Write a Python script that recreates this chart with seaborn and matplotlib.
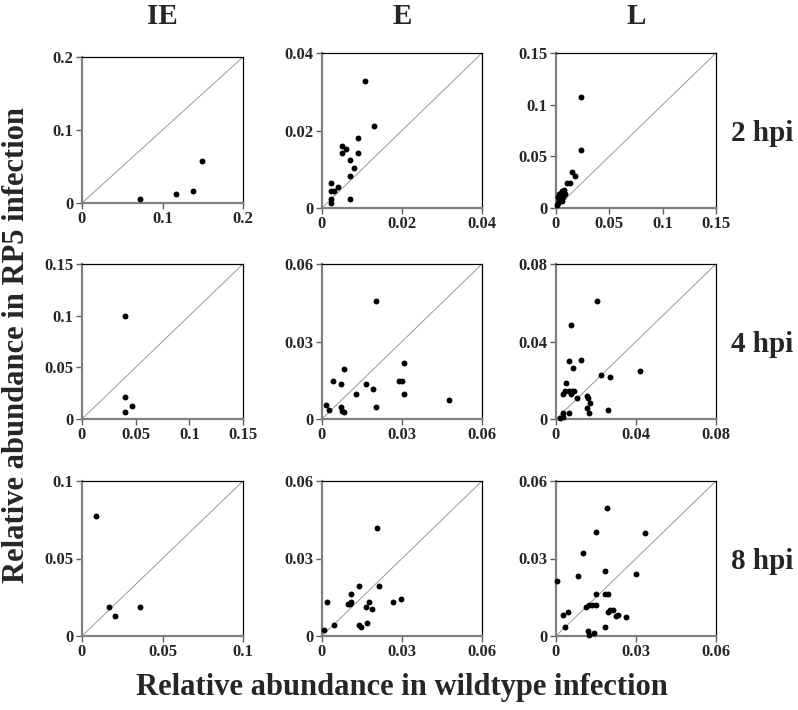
import matplotlib
matplotlib.use("Agg")
import matplotlib.pyplot as plt
import seaborn as sns
from matplotlib.ticker import FuncFormatter

sns.set_theme(style="white")
plt.rcParams['font.family'] = ['Liberation Serif', 'DejaVu Serif']
plt.rcParams['font.weight'] = 'bold'

# stages (columns) and time points (rows)
stages = ['IE', 'E', 'L']
times = ['2 hpi', '4 hpi', '8 hpi']

# axis maximum and ticks per panel
limits = [[0.2, 0.04, 0.15],
          [0.15, 0.06, 0.08],
          [0.1, 0.06, 0.06]]
ticks = [[[0, 0.1, 0.2], [0, 0.02, 0.04], [0, 0.05, 0.1, 0.15]],
         [[0, 0.05, 0.1, 0.15], [0, 0.03, 0.06], [0, 0.04, 0.08]],
         [[0, 0.05, 0.1], [0, 0.03, 0.06], [0, 0.03, 0.06]]]

# 2 hpi
ie_2_wt = [0.072, 0.117, 0.138, 0.149]
ie_2_rp = [0.006, 0.012, 0.016, 0.057]
e_2_wt = [0.0108, 0.0131, 0.0089, 0.0051, 0.0061, 0.0051, 0.0089, 0.0069, 0.0079,
          0.0069, 0.0022, 0.0041, 0.0022, 0.0031, 0.0022, 0.0022, 0.0070]
e_2_rp = [0.0329, 0.0212, 0.0180, 0.0161, 0.0151, 0.0141, 0.0141, 0.0123, 0.0103,
          0.0083, 0.0064, 0.0054, 0.0044, 0.0044, 0.0024, 0.0014, 0.0024]
l_2_wt = [0.0231, 0.0231, 0.0147, 0.0178, 0.0131, 0.0100, 0.0075, 0.0053, 0.0084,
          0.0038, 0.0063, 0.0022, 0.0030, 0.0053, 0.0016, 0.0013, 0.0045, 0.0028]
l_2_rp = [0.107, 0.056, 0.035, 0.031, 0.0245, 0.024, 0.0172, 0.016, 0.0137,
          0.0127, 0.0105, 0.011, 0.008, 0.0064, 0.0048, 0.003, 0.0145, 0.0135]

# 4 hpi
ie_4_wt = [0.040, 0.040, 0.047, 0.040]
ie_4_rp = [0.100, 0.021, 0.013, 0.007]
e_4_wt = [0.0201, 0.0308, 0.0083, 0.0043, 0.0071, 0.0164, 0.0191, 0.0129, 0.0288,
          0.0300, 0.0308, 0.0203, 0.0014, 0.0025, 0.0071, 0.0075, 0.0083, 0.0475]
e_4_rp = [0.0456, 0.0216, 0.0195, 0.0146, 0.0136, 0.0136, 0.0116, 0.0096, 0.0146,
          0.0146, 0.0096, 0.0045, 0.0056, 0.0036, 0.0045, 0.0032, 0.0027, 0.0074]
l_4_wt = [0.0203, 0.0073, 0.0066, 0.0125, 0.0086, 0.0422, 0.0224, 0.0272, 0.0052,
          0.0034, 0.0047, 0.0066, 0.0079, 0.0091, 0.0073, 0.0105, 0.0157, 0.0162,
          0.0170, 0.0157, 0.0164, 0.0262, 0.0066, 0.0034, 0.0034, 0.0020]
l_4_rp = [0.0608, 0.0485, 0.0298, 0.0305, 0.0265, 0.0246, 0.0225, 0.0218, 0.0185,
          0.0128, 0.0144, 0.0144, 0.0144, 0.0144, 0.0128, 0.0106, 0.0118, 0.0106,
          0.0085, 0.0057, 0.0031, 0.0047, 0.0031, 0.0031, 0.0010, 0.0007]

# 8 hpi
ie_8_wt = [0.009, 0.0165, 0.0208, 0.0358]
ie_8_rp = [0.0775, 0.0184, 0.0128, 0.0184]
e_8_wt = [0.0208, 0.0139, 0.0215, 0.0110, 0.0019, 0.0110, 0.0176, 0.0268, 0.0296,
          0.0098, 0.0106, 0.0166, 0.0186, 0.0138, 0.0148, 0.0168, 0.0044, 0.0009]
e_8_rp = [0.0419, 0.0194, 0.0194, 0.0164, 0.0132, 0.0132, 0.0132, 0.0132, 0.0144,
          0.0122, 0.0122, 0.0114, 0.0103, 0.0043, 0.0034, 0.0052, 0.0043, 0.0022]
l_8_wt = [0.0193, 0.0151, 0.0334, 0.0101, 0.0004, 0.0083, 0.0182, 0.0300, 0.0150,
          0.0184, 0.0194, 0.0113, 0.0124, 0.0135, 0.0151, 0.0194, 0.0204, 0.0214,
          0.0226, 0.0233, 0.0262, 0.0044, 0.0025, 0.0035, 0.0121, 0.0122, 0.0144,
          0.0183]
l_8_rp = [0.0494, 0.0403, 0.0398, 0.0323, 0.0211, 0.0231, 0.0252, 0.0241, 0.0162,
          0.0162, 0.0162, 0.0113, 0.0121, 0.0121, 0.0121, 0.0091, 0.0100, 0.0102,
          0.0078, 0.0082, 0.0073, 0.0091, 0.0081, 0.0033, 0.0021, 0.0003, 0.0012,
          0.0033]

data = [[(ie_2_wt, ie_2_rp), (e_2_wt, e_2_rp), (l_2_wt, l_2_rp)],
        [(ie_4_wt, ie_4_rp), (e_4_wt, e_4_rp), (l_4_wt, l_4_rp)],
        [(ie_8_wt, ie_8_rp), (e_8_wt, e_8_rp), (l_8_wt, l_8_rp)]]

W, H = 798, 710
fig = plt.figure(figsize=(W / 100, H / 100), dpi=100)

# panel boxes in pixels (left, right) and (top, bottom)
col_px = [(82, 243), (322, 482), (556, 716)]
row_px = [(53, 208), (264, 419), (481, 636)]

fmt = FuncFormatter(lambda v, p: '%g' % v)

for r in range(3):
    for c in range(3):
        x0, x1 = col_px[c]
        y0, y1 = row_px[r]
        if r == 0 and c == 0:
            y0, y1 = 57, 203
        ax = fig.add_axes([x0 / W, 1 - y1 / H, (x1 - x0) / W, (y1 - y0) / H])
        wt, rp = data[r][c]
        sns.scatterplot(x=wt, y=rp, ax=ax, color='black', s=18,
                        edgecolor='black', linewidth=0, clip_on=False, zorder=3)
        m = limits[r][c]
        ax.axline((0, 0), slope=1, color='#9a9a9a', lw=0.7, zorder=1)
        ax.set_xlim(0, m)
        ax.set_ylim(0, m)
        ax.set_xticks(ticks[r][c])
        ax.set_yticks(ticks[r][c])
        ax.xaxis.set_major_formatter(fmt)
        ax.yaxis.set_major_formatter(fmt)
        for side in ['left', 'bottom']:
            ax.spines[side].set_color('#808080')
            ax.spines[side].set_linewidth(1.6)
        for side in ['top', 'right']:
            ax.spines[side].set_color('black')
            ax.spines[side].set_linewidth(0.9)
        ax.tick_params(axis='both', which='major', direction='out', length=4,
                       width=1, color='#606060', labelsize=12, pad=2,
                       bottom=True, left=True)
        for lab in ax.get_xticklabels() + ax.get_yticklabels():
            lab.set_fontweight('bold')

# column titles
for c, name in enumerate(stages):
    xc = (col_px[c][0] + col_px[c][1]) / 2
    fig.text(xc / W, 1 - 16 / H, name, ha='center', va='center',
             fontsize=21, fontweight='bold')

# row labels
for r, name in enumerate(times):
    yc = (row_px[r][0] + row_px[r][1]) / 2
    fig.text(731 / W, 1 - (yc + 3) / H, name, ha='left', va='center',
             fontsize=21, fontweight='bold')

fig.text(402 / W, 1 - 688 / H, 'Relative abundance in wildtype infection',
         ha='center', va='center', fontsize=22, fontweight='bold')
fig.text(17 / W, 1 - 345 / H, 'Relative abundance in RP5 infection',
         ha='center', va='center', rotation=90, fontsize=22, fontweight='bold')

fig.savefig('out.png', dpi=100)
